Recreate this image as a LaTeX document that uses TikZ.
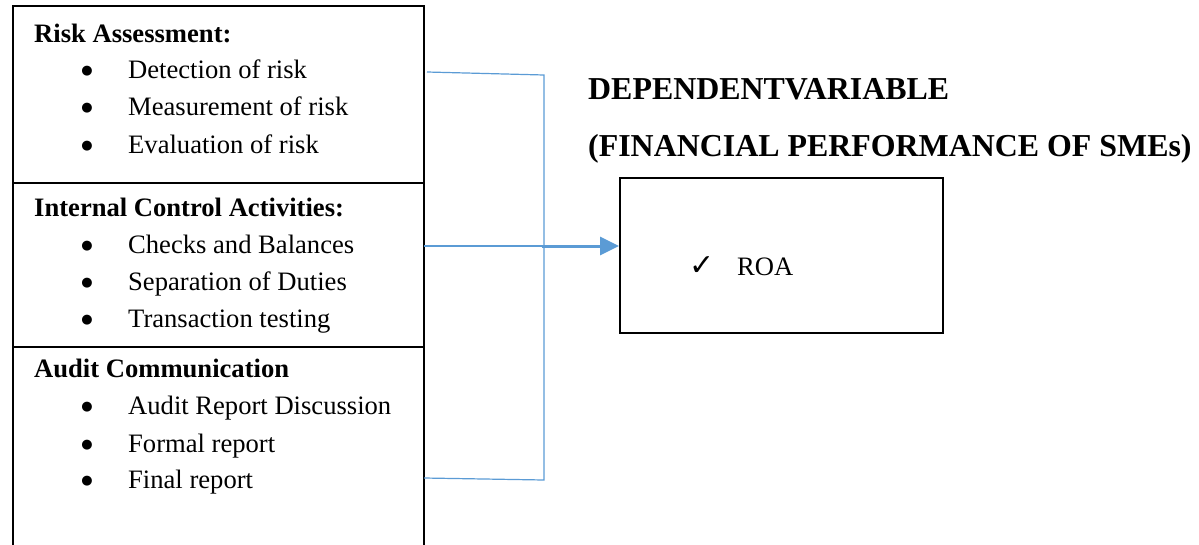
\documentclass[tikz,border=0pt]{standalone}
\usepackage{fontspec}
\setmainfont{Liberation Serif}
\newfontfamily\symfont{DejaVu Sans}
\usetikzlibrary{arrows.meta}
\definecolor{lineblue}{HTML}{5B9BD5}
\begin{document}
\begin{tikzpicture}[x=1pt,y=-1pt,
  boxline/.style={draw=black,line width=2.2pt},
  item/.style={anchor=base west,inner sep=0pt,font=\fontsize{26.6}{30}\selectfont},
  head/.style={anchor=base west,inner sep=0pt,font=\fontsize{26.6}{30}\selectfont\bfseries},
  bigtitle/.style={anchor=base west,inner sep=0pt,font=\fontsize{31.9}{36}\selectfont\bfseries},
  bul/.style={anchor=center,inner sep=0pt,font=\symfont\fontsize{13}{15}\selectfont},
  link/.style={draw=lineblue,line width=1.2pt},
  arrowlink/.style={draw=lineblue,line width=3pt,-{Triangle[length=19pt,width=18pt]}}]
\useasboundingbox (0,0) rectangle (1199,544);
% left boxes
\node[boxline,anchor=north west,minimum width=411pt,minimum height=177pt,inner sep=0pt] (sec1) at (12,5) {};
\node[boxline,anchor=north west,minimum width=411pt,minimum height=164pt,inner sep=0pt] (sec2) at (12,182) {};
\node[boxline,anchor=north west,minimum width=411pt,minimum height=220pt,inner sep=0pt] (sec3) at (12,346) {};
% section 1
\node[head] (h1) at (34,42) {Risk Assessment:};
\node[bul] (b11) at (87,71) {●};
\node[item] (t11) at (128,78) {Detection of risk};
\node[bul] (b12) at (87,108) {●};
\node[item] (t12) at (128,115) {Measurement of risk};
\node[bul] (b13) at (87,146) {●};
\node[item] (t13) at (128,153) {Evaluation of risk};
% section 2
\node[head] (h2) at (34,216) {Internal Control Activities:};
\node[bul] (b21) at (87,246) {●};
\node[item] (t21) at (128,253) {Checks and Balances};
\node[bul] (b22) at (87,283) {●};
\node[item] (t22) at (128,290) {Separation of Duties};
\node[bul] (b23) at (87,320) {●};
\node[item] (t23) at (128,327) {Transaction testing};
% section 3
\node[head] (h3) at (34,377) {Audit Communication};
\node[bul] (b31) at (87,407) {●};
\node[item] (t31) at (128,414) {Audit Report Discussion};
\node[bul] (b32) at (87,445) {●};
\node[item] (t32) at (128,452) {Formal report};
\node[bul] (b33) at (87,481) {●};
\node[item] (t33) at (128,488) {Final report};
% titles
\node[bigtitle] (dv) at (588,99) {DEPENDENTVARIABLE};
\node[bigtitle] (fp) at (588,156) {(FINANCIAL PERFORMANCE OF SMEs)};
% right box
\node[boxline,anchor=north west,minimum width=323pt,minimum height=155pt,inner sep=0pt] (roa) at (619,177) {};
\node[anchor=base west,inner sep=0pt,font=\symfont\fontsize{30}{34}\selectfont] (chk) at (689,275) {✓};
\node[item] (roat) at (737,275) {ROA};
% connectors
\coordinate (c1) at (427,72);
\coordinate (j1) at (544,75);
\coordinate (c2) at (424,246);
\coordinate (j2) at (542,246);
\coordinate (c3) at (424,478);
\coordinate (j3) at (544,480);
\draw[link] (c1) -- (j1) -- (j3) -- (c3);
\draw[link] (c2) -- (j2);
\draw[arrowlink] (j2) -- (j2 -| roa.west);
\end{tikzpicture}
\end{document}
